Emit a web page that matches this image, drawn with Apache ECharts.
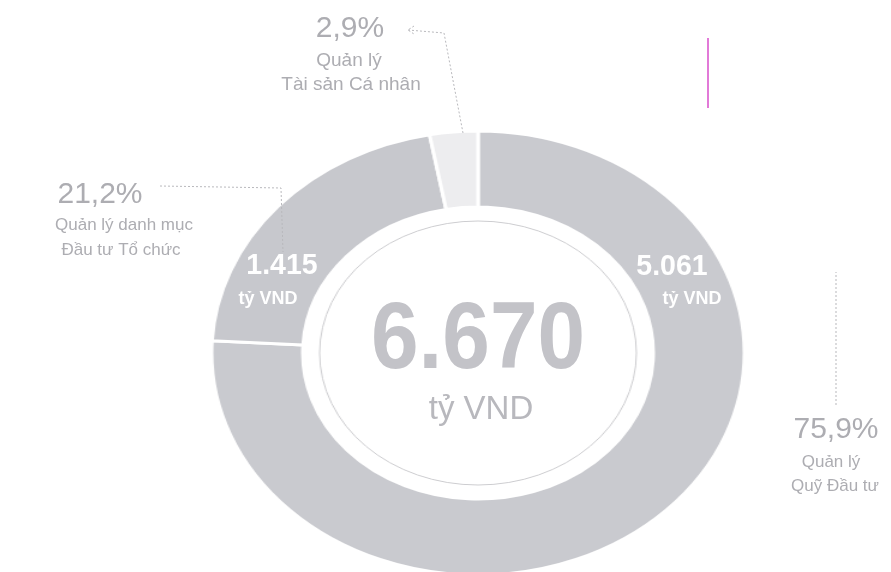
<!DOCTYPE html>
<html>
<head>
<meta charset="utf-8">
<script src="https://cdn.jsdelivr.net/npm/echarts@6/dist/echarts.min.js"></script>
<style>
  html, body { margin: 0; padding: 0; background: #fff; overflow: hidden; }
  #wrap { position: relative; width: 891px; height: 572px; overflow: hidden; }
  /* the scanned donut is an ellipse, so the pie layer is stretched sideways */
  #pie { position: absolute; left: 0; top: 0; width: 891px; height: 572px;
         transform: scaleX(1.2); transform-origin: 478px 353px; }
  #labels { position: absolute; left: 0; top: 0; width: 891px; height: 572px; }
</style>
</head>
<body>
<div id="wrap">
  <div id="pie"></div>
  <div id="labels"></div>
</div>
<script>
// giá trị (tỷ VND)
const categories = ['Quản lý Quỹ Đầu tư', 'Quản lý danh mục Đầu tư Tổ chức', 'Quản lý Tài sản Cá nhân'];
const values = [5061, 1415, 194];
const nameLines = [
    ['Quản lý', 'Quỹ Đầu tư'],
    ['Quản lý danh mục', 'Đầu tư Tổ chức'],
    ['Quản lý', 'Tài sản Cá nhân']
];
const unit = 'tỷ VND';

const sliceColors = ['#c9cacf', '#c7c8cd', '#ededef'];
const total = values.reduce((a, b) => a + b, 0);

function fmtNum(n) {
    return String(n).replace(/\B(?=(\d{3})+(?!\d))/g, '.');
}
function fmtPct(v) {
    return (v / total * 100).toFixed(1).replace('.', ',') + '%';
}

// ---- lớp biểu đồ tròn ----
const pieChart = echarts.init(document.getElementById('pie'));
pieChart.setOption({
    animation: false,
    graphic: [{
        type: 'circle',
        shape: { cx: 478, cy: 353, r: 132 },
        style: { fill: 'none', stroke: '#cdcdd0', lineWidth: 1 },
        z: 10
    }],
    series: [{
        type: 'pie',
        silent: true,
        center: [478, 353],
        radius: [146, 222],
        startAngle: 90,
        label: { show: false },
        labelLine: { show: false },
        itemStyle: { borderColor: '#fff', borderWidth: 3 },
        data: categories.map((c, i) => ({
            name: c,
            value: values[i],
            itemStyle: { color: sliceColors[i] }
        }))
    }]
});

// ---- lớp chữ ----
const labelChart = echarts.init(document.getElementById('labels'));
const grey = '#adadb2';
function txt(x, y, text, font, fill, extra) {
    return Object.assign({
        type: 'text', x: x, y: y, z: 20,
        style: {
            text: text, font: font, fill: fill,
            align: 'center', verticalAlign: 'middle',
            textAlign: 'center', textVerticalAlign: 'middle'
        }
    }, extra || {});
}
function line(points) {
    return {
        type: 'polyline', z: 15,
        shape: { points: points },
        style: { stroke: '#b8b8bc', lineWidth: 1, lineDash: [2, 2], fill: 'none' }
    };
}
const pctFont = '30px "Liberation Sans"';
const valFont = 'bold 30px "Liberation Sans"';
const unitFont = 'bold 18px "Liberation Sans"';

labelChart.setOption({
    animation: false,
    graphic: [
        // Tài sản Cá nhân
        txt(350, 29, fmtPct(values[2]), pctFont, grey),
        txt(349, 61, nameLines[2][0], '19px "Liberation Sans"', grey),
        txt(351, 85, nameLines[2][1], '19px "Liberation Sans"', grey),
        line([[414, 26], [408, 30], [414, 34]]),
        line([[408, 30], [444, 33], [463, 133]]),
        // danh mục Tổ chức
        txt(100, 195, fmtPct(values[1]), pctFont, grey),
        txt(124, 225, nameLines[1][0], '17px "Liberation Sans"', grey),
        txt(121, 250, nameLines[1][1], '17px "Liberation Sans"', grey),
        line([[160, 186], [281, 188], [283, 252]]),
        // Quỹ Đầu tư
        txt(836, 430, fmtPct(values[0]), pctFont, grey),
        txt(831, 462, nameLines[0][0], '17px "Liberation Sans"', grey),
        txt(835, 486, nameLines[0][1], '17px "Liberation Sans"', grey),
        line([[836, 405], [836, 272]]),
        // giá trị trên vòng
        txt(282, 266, fmtNum(values[1]), valFont, '#fff', { scaleX: 0.95 }),
        txt(268, 299, unit, unitFont, '#fff'),
        txt(672, 267, fmtNum(values[0]), valFont, '#fff', { scaleX: 0.95 }),
        txt(692, 299, unit, unitFont, '#fff'),
        // tổng ở giữa
        txt(478, 342, fmtNum(total), 'bold 95px "Liberation Sans"', '#c3c3c8', { scaleX: 0.9 }),
        txt(481, 410, unit, '33px "Liberation Sans"', '#b8b8bd'),
        // vệt bút màu hồng trên bản scan
        {
            type: 'line', z: 15,
            shape: { x1: 708, y1: 38, x2: 708, y2: 108 },
            style: { stroke: '#e27ad8', lineWidth: 2 }
        }
    ]
});

window.addEventListener('resize', function () {
    pieChart.resize();
    labelChart.resize();
});
</script>
</body>
</html>
